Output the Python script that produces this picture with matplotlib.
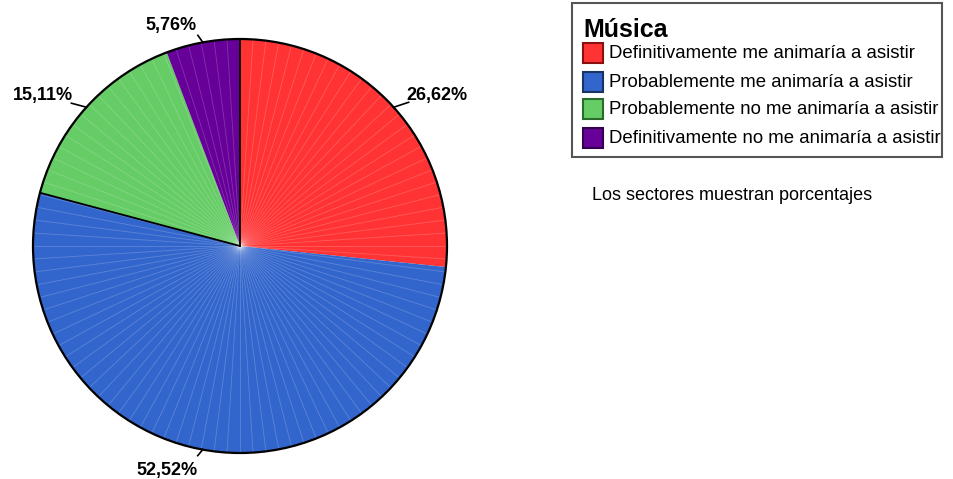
import numpy as np
import matplotlib
matplotlib.use("Agg")
import matplotlib.pyplot as plt
from matplotlib.patches import Rectangle, Circle

categories = ["Definitivamente me animaría a asistir",
              "Probablemente me animaría a asistir",
              "Probablemente no me animaría a asistir",
              "Definitivamente no me animaría a asistir"]
percentages = [26.62, 52.52, 15.11, 5.76]
colors = ["#ff3333", "#3366cc", "#66cc66", "#660099"]
edge_colors = ["#8a1010", "#1a3366", "#2a6a2a", "#330050"]
title = "Música"
note = "Los sectores muestran porcentajes"

W, H = 954, 479
plt.rcParams['font.family'] = ['Liberation Sans', 'DejaVu Sans']

fig = plt.figure(figsize=(W / 100, H / 100), dpi=100)
ax = fig.add_axes([0, 0, 1, 1])

def py(y):
    return H - y

cx, cy, r = 240, py(246), 207
wedges, _ = ax.pie(percentages, colors=colors, startangle=90, counterclock=False,
                   center=(cx, cy), radius=r, wedgeprops=dict(linewidth=0))

# faint seams radiating from the centre
for a in np.arange(90, 450, 3.6):
    t = np.deg2rad(a)
    ax.plot([cx, cx + r * np.cos(t)], [cy, cy + r * np.sin(t)],
            color="white", lw=0.6, alpha=0.2, zorder=3)

ax.add_patch(Circle((cx, cy), r, fill=False, edgecolor="black", lw=1.6, zorder=4))

# slice boundaries (clockwise from 12 o'clock)
bounds = 90 - np.cumsum([0] + percentages) * 3.6
for a in [bounds[0], bounds[2]]:
    t = np.deg2rad(a)
    ax.plot([cx, cx + r * np.cos(t)], [cy, cy + r * np.sin(t)],
            color="black", lw=1.3, zorder=4)

# percentage labels with short leader lines (pixel offsets, y downwards)
leader = [(15, -5), (-5, 6), (-15, -4), (-5, -7)]
text_off = [(-2, -2, "left", "baseline"), (0, 6, "right", "top"),
            (2, -3, "right", "baseline"), (-1, -5, "right", "baseline")]
for i, p in enumerate(percentages):
    mid = np.deg2rad((bounds[i] + bounds[i + 1]) / 2)
    x0, y0 = cx + r * np.cos(mid), cy + r * np.sin(mid)
    x1, y1 = x0 + leader[i][0], y0 - leader[i][1]
    ax.plot([x0, x1], [y0, y1], color="black", lw=1.2, zorder=4)
    ox, oy, ha, va = text_off[i]
    ax.text(x1 + ox, y1 - oy, f"{p:.2f}%".replace(".", ","),
            ha=ha, va=va, fontsize=13, fontweight="bold")

# legend box
ax.add_patch(Rectangle((572, py(157)), 370, 154, fill=False, edgecolor="#555555",
                       lw=1.5, zorder=5))
ax.text(583, py(37), title, fontsize=18, fontweight="bold", va="baseline", zorder=6)
row_y = [53, 82, 109, 138]
for c, ec, lab, y in zip(colors, edge_colors, categories, row_y):
    ax.add_patch(Rectangle((583, py(y + 10)), 20, 20, facecolor=c, edgecolor=ec,
                           lw=1.5, zorder=6))
    ax.text(609, py(y), lab, fontsize=13.4, va="center", zorder=6)

ax.text(592, py(195), note, fontsize=13, va="center")

ax.set_xlim(0, W)
ax.set_ylim(0, H)
ax.set_aspect("equal")
ax.axis("off")

fig.savefig("out.png", dpi=100)
